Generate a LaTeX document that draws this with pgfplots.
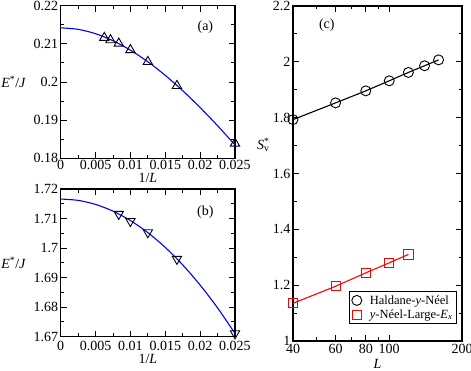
\documentclass[border=0pt]{standalone}
\usepackage{fontspec}
\setmainfont{Liberation Serif}
\usepackage{pgfplots}
\pgfplotsset{compat=1.18}

\definecolor{fitblue}{RGB}{0,0,255}
\definecolor{fitred}{RGB}{255,0,0}

\pgfplotsset{
  every axis/.append style={
    font=\fontsize{14}{16}\selectfont,
    scale only axis,
    axis line style={line width=1.1pt},
    tick style={line width=0.9pt, black},
    major tick length=6pt, minor tick length=3.5pt,
    tick align=inside,
    scaled ticks=false,
    /pgf/number format/assume math mode=true,
    /pgf/number format/fixed,
    /pgf/number format/precision=3,
    yticklabel style={xshift=1pt},
  },
  enpanel/.style={
    width=174.3pt,
    xmin=0, xmax=0.025,
    xtick={0,0.005,0.01,0.015,0.02,0.025},
    minor xtick={0.0025,0.0075,0.0125,0.0175,0.0225},
    xlabel={1/\textit{L}},
    ylabel={\textit{E}\textsuperscript{*}/\textit{J}},
    ylabel style={rotate=-90, at={(axis description cs:-0.27,0.5)}, anchor=center},
    xlabel style={yshift=3pt},
  },
}

\begin{document}
\begin{tikzpicture}
\path[use as bounding box] (0,0) rectangle (471pt,-371pt);

% (a)
\begin{axis}[enpanel, at={(60.7pt,-5.7pt)}, anchor=north west,
  height=152.6pt,
  ymin=0.18, ymax=0.22,
  ytick={0.18,0.19,0.2,0.21,0.22},
  minor ytick={0.185,0.195,0.205,0.215},
  xticklabel style={yshift=2pt},
]
\addplot[fitblue, line width=1.1pt, smooth] coordinates {
  (0,0.2142) (0.0025,0.2138) (0.005,0.21266) (0.0075,0.21082) (0.01,0.20835)
  (0.0125,0.2053) (0.015,0.20174) (0.0175,0.19772) (0.02,0.1933)
  (0.0225,0.18854) (0.025,0.1835)};
\addplot[only marks, mark=triangle, mark size=5.4pt, black, mark options={line width=0.9pt}] coordinates {
  (0.00625,0.2116) (0.00714,0.2110) (0.00833,0.2101) (0.01,0.2084)
  (0.0125,0.2053) (0.01667,0.1990) (0.025,0.1839)};
\node[anchor=center] at (axis description cs:0.83,0.86) {(a)};
\end{axis}

% (b)
\begin{axis}[enpanel, at={(60.7pt,-189pt)}, anchor=north west,
  height=147.7pt,
  ymin=1.67, ymax=1.72,
  ytick={1.67,1.68,1.69,1.7,1.71,1.72},
  minor ytick={1.675,1.685,1.695,1.705,1.715},
  xticklabel style={yshift=-1pt},
]
\addplot[fitblue, line width=1.1pt, smooth] coordinates {
  (0,1.7166) (0.0025,1.71615) (0.005,1.71478) (0.0075,1.71251) (0.01,1.70932)
  (0.0125,1.70523) (0.015,1.70022) (0.0175,1.69431) (0.02,1.68748)
  (0.0225,1.67975) (0.025,1.6711)};
\addplot[only marks, mark=triangle, mark size=5.4pt, black, mark options={rotate=180, line width=0.9pt}] coordinates {
  (0.00833,1.7115) (0.01,1.7091) (0.0125,1.7053) (0.01667,1.6963) (0.025,1.6711)};
\node[anchor=center] at (axis description cs:0.83,0.84) {(b)};
\end{axis}

% (c)
\begin{axis}[at={(293pt,-6pt)}, anchor=north west,
  width=169pt, height=335pt,
  xmode=log,
  xmin=40, xmax=200,
  xtick={40,60,80,100,200},
  xticklabels={40,60,80,100,200},
  minor xtick={50,70,90},
  ymin=1, ymax=2.2,
  ytick={1,1.2,1.4,1.6,1.8,2,2.2},
  minor ytick={1.1,1.3,1.5,1.7,1.9,2.1},
  xlabel={\textit{L}},
  xlabel style={yshift=2pt},
  ylabel={\textit{S}\rlap{\textsuperscript{*}}\textsubscript{v}},
  ylabel style={rotate=-90, at={(axis description cs:-0.175,0.585)}, anchor=center},
  legend style={at={(0.97,0.05)}, anchor=south east,
    draw=black, line width=1.1pt, font=\fontsize{12.5}{14}\selectfont,
    inner sep=2pt, row sep=0pt,
    /tikz/every odd column/.append style={column sep=6pt}},
  legend cell align=left,
]
% fit lines
\addplot[forget plot, black, line width=1.1pt] coordinates {
  (40,1.793) (60,1.853) (80,1.896) (100,1.932) (120,1.962) (140,1.986) (160,2.007)};
\addplot[forget plot, fitred, line width=1.1pt] coordinates {
  (40,1.135) (60,1.196) (80,1.244) (100,1.280) (120,1.310)};
% data
\addplot[only marks, black, mark=o, mark size=5pt, mark options={line width=0.9pt}] coordinates {
  (40,1.793) (60,1.853) (80,1.896) (100,1.932) (120,1.962) (140,1.986) (160,2.007)};
\addlegendentry{Haldane-\textit{y}-Néel}
\addplot[only marks, fitred, mark=square, mark size=4.6pt, mark options={line width=0.9pt}] coordinates {
  (40,1.135) (60,1.196) (80,1.244) (100,1.280) (120,1.310)};
\addlegendentry{\textit{y}-Néel-Large-\textit{E}\textsubscript{\textit{x}}}
\node[anchor=center] at (axis description cs:0.2,0.944) {(c)};
\end{axis}
\end{tikzpicture}
\end{document}
